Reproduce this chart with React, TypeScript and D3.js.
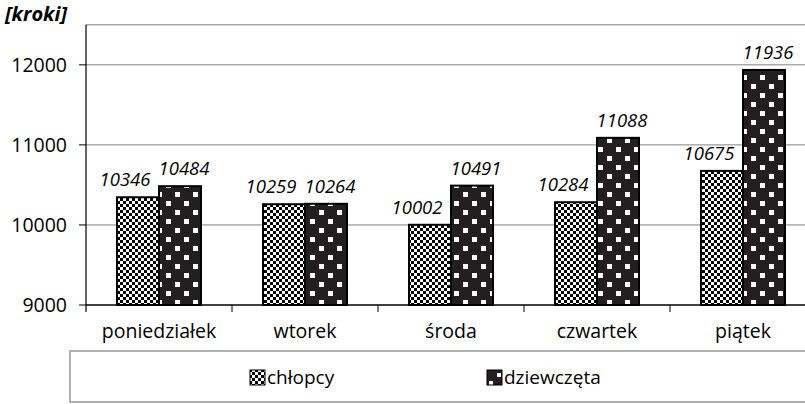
import React from "react";
import * as d3 from "d3";

const categories = ["poniedziałek", "wtorek", "środa", "czwartek", "piątek"];
const boys = [10346, 10259, 10002, 10284, 10675];
const girls = [10484, 10264, 10491, 11088, 11936];
const yTicks = [9000, 10000, 11000, 12000];
const seriesNames = ["chłopcy", "dziewczęta"];
const unitLabel = "[kroki]";

const W = 805;
const H = 404;
const FONT = "'Open Sans', 'Noto Sans', sans-serif";

export default function App() {
  const x0 = 86;
  const band = 146;
  const x = d3
    .scaleBand<string>()
    .domain(categories)
    .range([x0, x0 + band * categories.length])
    .paddingInner(0)
    .paddingOuter(0);
  const y = d3.scaleLinear().domain([9000, 12500]).range([305, 24.8]);
  const barW = 42;

  const series = [boys, girls];
  const fills = ["url(#checker)", "url(#dots)"];
  const legendFills = ["url(#checkerL)", "url(#dotsL)"];
  const labelDx = [-13, 4];

  return (
    <svg
      width={W}
      height={H}
      style={{ position: "absolute", left: 0, top: 0, background: "#fff" }}
      fontFamily={FONT}
    >
      <defs>
        <pattern id="checker" width={6} height={6} patternUnits="userSpaceOnUse">
          <rect width={6} height={6} fill="#fff" />
          <rect x={0} y={0} width={3} height={3} fill="#000" />
          <rect x={3} y={3} width={3} height={3} fill="#000" />
        </pattern>
        <pattern id="dots" width={18} height={18} patternUnits="userSpaceOnUse" x={4} y={3}>
          <rect width={18} height={18} fill="#231f20" />
          <rect x={0} y={0} width={5} height={5} fill="#fff" />
          <rect x={9} y={9} width={5} height={5} fill="#fff" />
        </pattern>
        <pattern id="checkerL" width={6} height={6} patternUnits="userSpaceOnUse">
          <rect width={6} height={6} fill="#fff" />
          <rect x={0} y={0} width={3} height={3} fill="#000" />
          <rect x={3} y={3} width={3} height={3} fill="#000" />
        </pattern>
        <pattern id="dotsL" width={16} height={16} patternUnits="userSpaceOnUse" x={489} y={373}>
          <rect width={16} height={16} fill="#231f20" />
          <rect x={0} y={8} width={4} height={5} fill="#fff" />
          <rect x={8} y={0} width={4} height={4} fill="#fff" />
        </pattern>
      </defs>

      {/* top border */}
      <line x1={x0} x2={W} y1={y(12500)} y2={y(12500)} stroke="#808080" strokeWidth={1} />
      {/* gridlines */}
      {yTicks.slice(1).map((t) => (
        <line key={t} x1={x0} x2={W} y1={y(t)} y2={y(t)} stroke="#808080" strokeWidth={1} />
      ))}

      {/* bars */}
      {categories.map((c, i) => {
        const cx = (x(c) as number) + x.bandwidth() / 2;
        return series.map((s, si) => {
          const bx = cx - barW + si * barW;
          return (
            <rect
              key={c + si}
              x={bx}
              y={y(s[i])}
              width={barW}
              height={y(9000) - y(s[i])}
              fill={fills[si]}
              stroke="#000"
              strokeWidth={2}
            />
          );
        });
      })}

      {/* value labels */}
      {categories.map((c, i) => {
        const cx = (x(c) as number) + x.bandwidth() / 2;
        return series.map((s, si) => {
          const bcx = cx - barW / 2 + si * barW;
          return (
            <text
              key={"l" + c + si}
              x={bcx + labelDx[si]}
              y={y(s[i]) - 11}
              textAnchor="middle"
              fontSize={18.5}
              fontStyle="italic"
              fill="#000"
            >
              {s[i]}
            </text>
          );
        });
      })}

      {/* y axis */}
      <line x1={x0} x2={x0} y1={y(12500)} y2={312} stroke="#000" strokeWidth={1.2} />
      {yTicks.map((t) => (
        <g key={"t" + t}>
          <line x1={79} x2={x0} y1={y(t)} y2={y(t)} stroke="#000" strokeWidth={1} />
          <text x={67} y={y(t) + 7} textAnchor="end" fontSize={19.5} fill="#000">
            {t}
          </text>
        </g>
      ))}

      {/* x axis */}
      <line x1={x0} x2={W} y1={y(9000)} y2={y(9000)} stroke="#000" strokeWidth={1.5} />
      {categories.map((c) => (
        <line
          key={"xt" + c}
          x1={(x(c) as number) + band}
          x2={(x(c) as number) + band}
          y1={y(9000)}
          y2={312}
          stroke="#000"
          strokeWidth={1}
        />
      ))}
      {categories.map((c) => (
        <text
          key={"xl" + c}
          x={(x(c) as number) + x.bandwidth() / 2}
          y={338}
          textAnchor="middle"
          fontSize={19.5}
          fill="#000"
        >
          {c}
        </text>
      ))}

      {/* unit label */}
      <text x={5} y={21} fontSize={20} fontWeight="bold" fontStyle="italic" fill="#000">
        {unitLabel}
      </text>

      {/* legend */}
      <rect x={70} y={351} width={W} height={51} fill="none" stroke="#a8a8a8" strokeWidth={1.8} />
      {seriesNames.map((n, si) => {
        const lx = si === 0 ? 250 : 487;
        return (
          <g key={"lg" + n}>
            <rect x={lx} y={370} width={15} height={15} fill={legendFills[si]} stroke="#000" strokeWidth={1} />
            <text x={lx + 17} y={384} fontSize={19} fill="#000">
              {n}
            </text>
          </g>
        );
      })}
    </svg>
  );
}
